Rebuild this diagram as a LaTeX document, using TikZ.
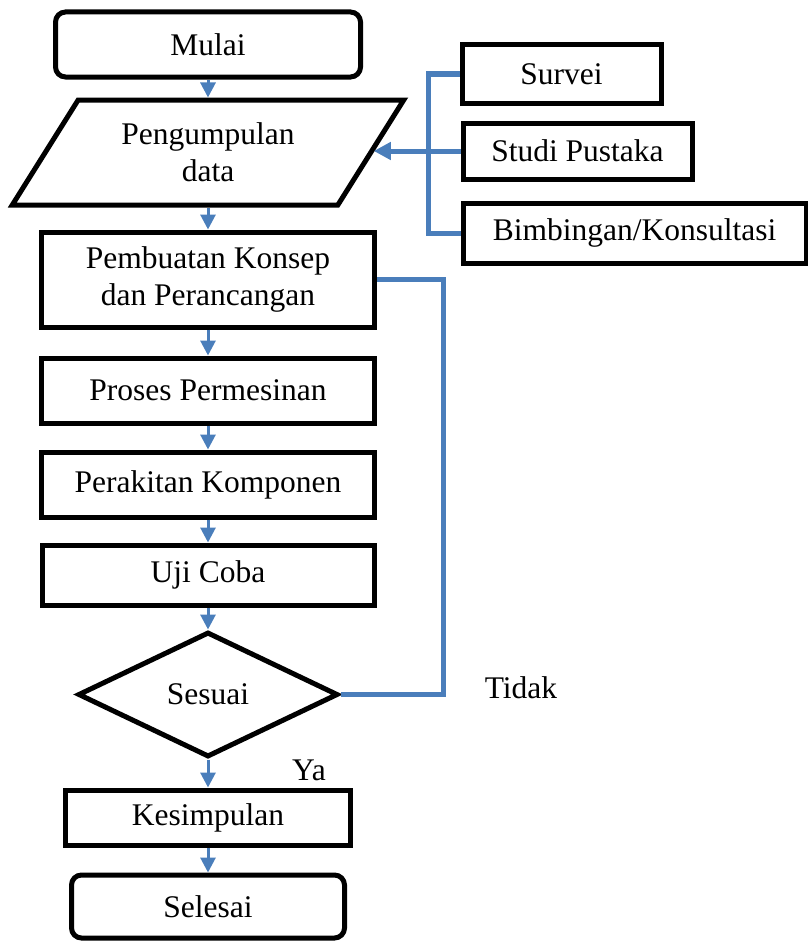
\documentclass[tikz,border=0pt]{standalone}
\usepackage{fontspec}
\setmainfont{Liberation Serif}
\usetikzlibrary{arrows.meta,shapes,positioning}
\definecolor{flowblue}{RGB}{74,126,187}
\tikzset{
    basic/.style  = {draw, black, line width=5pt, inner sep=0pt, align=center,
                     font=\fontsize{31.5}{37}\selectfont},
    terminal/.style = {basic, rectangle, rounded corners=10pt},
    process/.style  = {basic, rectangle},
    io/.style       = {basic, trapezium, trapezium stretches=true,
                       trapezium left angle=53.4, trapezium right angle=126.6},
    decision/.style = {basic, diamond},
    label/.style    = {font=\fontsize{31.5}{37}\selectfont},
    flow/.style     = {-{Triangle[length=15pt,width=15pt]}, flowblue, line width=3pt},
    feed/.style     = {flowblue, line width=5pt}
}
\begin{document}
\begin{tikzpicture}[x=1pt,y=-1pt]
	\useasboundingbox (0,0) rectangle (808,942);
	% main column
	\node[terminal, minimum width=305pt, minimum height=65pt] (mulai) at (208,44.5) {Mulai};
	\node[io, minimum width=393pt, minimum height=105pt] (data) at (208,152.5) {Pengumpulan\\data};
	\node[process, minimum width=333pt, minimum height=95pt] (konsep) at (208,279.5) {Pembuatan Konsep\\dan Perancangan};
	\node[process, minimum width=333pt, minimum height=65pt] (mesin) at (208,390.5) {Proses Permesinan};
	\node[process, minimum width=333pt, minimum height=65pt] (rakit) at (208,484.5) {Perakitan Komponen};
	\node[process, minimum width=332pt, minimum height=60pt] (uji) at (208,575) {Uji Coba};
	\node[decision, minimum width=260pt, minimum height=125pt] (sesuai) at (208,694.5) {Sesuai};
	\node[process, minimum width=285pt, minimum height=55pt] (simpul) at (208,817.5) {Kesimpulan};
	\node[terminal, minimum width=273pt, minimum height=63pt] (selesai) at (208,906.5) {Selesai};
	% sources
	\node[process, minimum width=199pt, minimum height=58pt] (survei) at (561.5,74) {Survei};
	\node[process, minimum width=229pt, minimum height=56pt] (studi) at (577.5,151) {Studi Pustaka};
	\node[process, minimum width=343pt, minimum height=60pt] (bimbing) at (634.5,233) {Bimbingan/Konsultasi};
	\node[label] (tidak) at (521,688) {Tidak};
	\node[label] (ya) at (309,770) {Ya};

	\draw[flow] (mulai) -- (data);
	\draw[flow] (data) -- (konsep);
	\draw[flow] (konsep) -- (mesin);
	\draw[flow] (mesin) -- (rakit);
	\draw[flow] (rakit) -- (uji);
	\draw[flow] (uji) -- (sesuai);
	\draw[flow] (sesuai) -- (simpul);
	\draw[flow] (simpul) -- (selesai);

	\coordinate (join) at (428,151);
	\draw[feed] (survei.west) -| (join) |- (bimbing.west);
	\draw[feed] (studi.west) -- (join);
	\draw[feed, -{Triangle[length=17pt,width=17pt]}] (join) -- (data.east |- join);
	\draw[feed] (konsep.east) -- ++(66,0) |- (sesuai.east);
\end{tikzpicture}
\end{document}
